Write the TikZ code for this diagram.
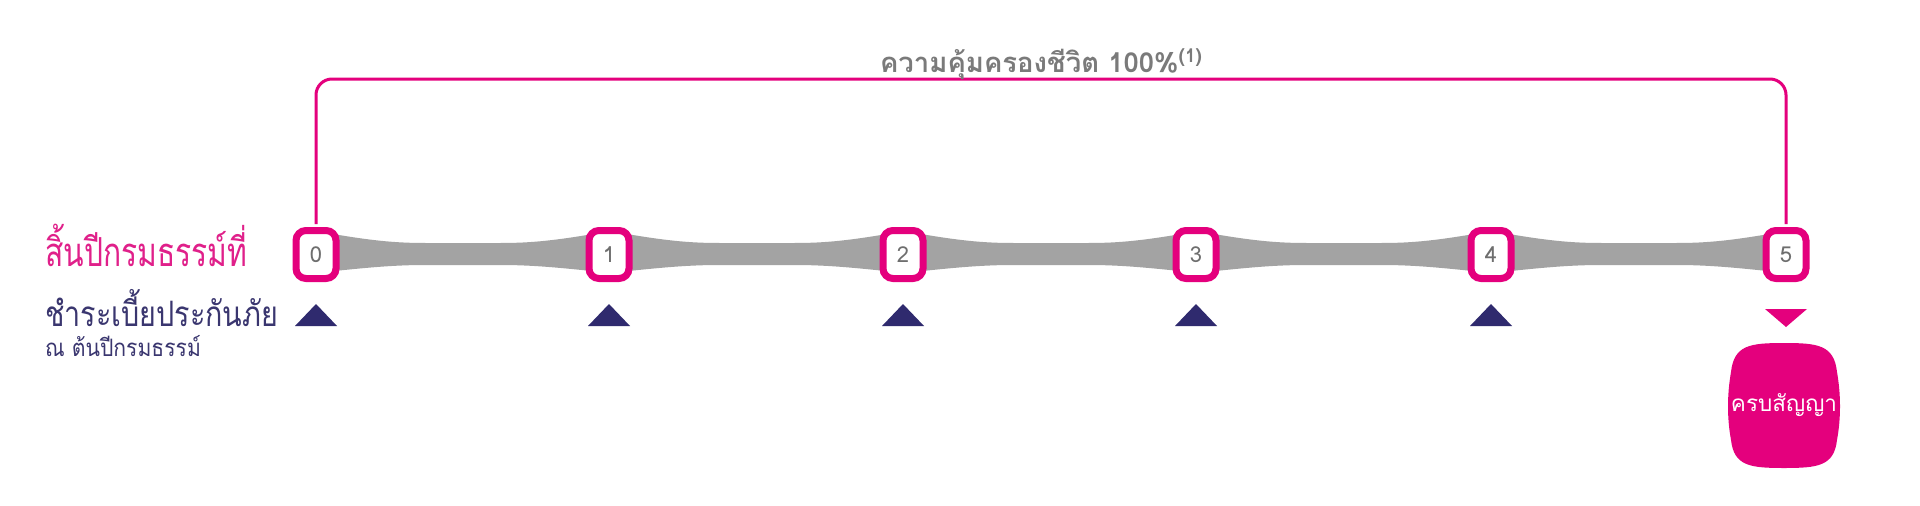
\documentclass[tikz,border=0pt]{standalone}
\usepackage{fontspec}
\newfontfamily\thai[Script=Thai]{Loma}
\newfontfamily\thaione[Script=Thai,FakeStretch=0.75]{Loma}
\newfontfamily\thaitwo[Script=Thai,FakeStretch=0.82]{Loma}
\newfontfamily\thaithree[Script=Thai,FakeStretch=0.88]{Loma}
\definecolor{mag}{HTML}{E4007D}
\definecolor{magtext}{HTML}{E0208A}
\definecolor{navy}{HTML}{2F2A6E}
\definecolor{navytext}{HTML}{3A366F}
\definecolor{band}{HTML}{A3A3A3}
\definecolor{numgray}{HTML}{6E6E6E}
\definecolor{titlegray}{HTML}{7A7A7A}
\tikzset{
  yearbox/.style={draw=mag, line width=7pt, fill=white, rounded corners=10pt,
    minimum width=40pt, minimum height=48pt, inner sep=0pt,
    font=\thai\fontsize{22}{22}\selectfont, text=numgray},
  paytri/.style={fill=navy},
  endtri/.style={fill=mag},
  bracket/.style={draw=mag, line width=3pt, rounded corners=16pt},
}
\begin{document}
\begin{tikzpicture}[x=1pt,y=-1pt]
\useasboundingbox (0,0) rectangle (1920,506);
\fill[white] (0,0) rectangle (1920,506);
% gray band
\foreach \a in {316,610,904,1197,1492}{
  \pgfmathsetmacro{\b}{\a+294}
  \fill[band] (\a,231) .. controls (\a+55,241) and (\a+80,243) .. (\a+110,243)
     -- (\b-110,243) .. controls (\b-80,243) and (\b-55,241) .. (\b,231)
     -- (\b,273) .. controls (\b-55,267) and (\b-80,265) .. (\b-110,265)
     -- (\a+110,265) .. controls (\a+80,265) and (\a+55,267) .. (\a,273) -- cycle;
}
% year boxes
\node[yearbox] (b0) at (316,254.5) {0};
\node[yearbox] (b1) at (609,254.5) {1};
\node[yearbox] (b2) at (903,254.5) {2};
\node[yearbox] (b3) at (1196,254.5) {3};
\node[yearbox] (b4) at (1491,254.5) {4};
\node[yearbox] (b5) at (1786,254.5) {5};
% bracket
\coordinate (topy) at (0,79);
\draw[bracket] ([yshift=3pt]b0.north) -- (b0.north |- topy) -- (b5.north |- topy) -- ([yshift=3pt]b5.north);
\node[anchor=base, font=\thai\bfseries\fontsize{27.5}{27.5}\selectfont, text=titlegray] (title) at (1041,72)
  {ความคุ้มครองชีวิต 100\%\raisebox{10pt}{\fontsize{19}{19}\selectfont(1)}};
% payment triangles
\foreach \n/\x in {t0/316,t1/609,t2/903,t3/1196,t4/1491}{
  \fill[paytri] (\x-21,326) -- (\x,304) -- (\x+21,326) -- cycle;
}
% end triangle
\fill[endtri] (1765,309) -- (1807,309) -- (1786,327) -- cycle;
% maturity box
\fill[mag] (1784,343) .. controls (1818,343) and (1834,345) .. (1837,372)
  .. controls (1841,395) and (1841,418) .. (1837,440)
  .. controls (1834,466) and (1818,468) .. (1784,468)
  .. controls (1750,468) and (1734,466) .. (1731,440)
  .. controls (1727,418) and (1727,395) .. (1731,372)
  .. controls (1734,345) and (1750,343) .. (1784,343) -- cycle;
\node[anchor=base, font=\thai\fontsize{22.5}{22.5}\selectfont, text=white] (mature) at (1784,411) {ครบสัญญา};
% left labels
\node[anchor=base west, inner sep=0pt, font=\thaione\fontsize{40}{40}\selectfont, text=magtext] (l1) at (45,266) {สิ้นปีกรมธรรม์ที่};
\node[anchor=base west, inner sep=0pt, font=\thaitwo\fontsize{35}{35}\selectfont, text=navytext] (l2) at (45,326) {ชำระเบี้ยประกันภัย};
\node[anchor=base west, inner sep=0pt, font=\thaithree\fontsize{24}{24}\selectfont, text=navytext] (l3) at (45,356) {ณ ต้นปีกรมธรรม์};
\end{tikzpicture}
\end{document}
